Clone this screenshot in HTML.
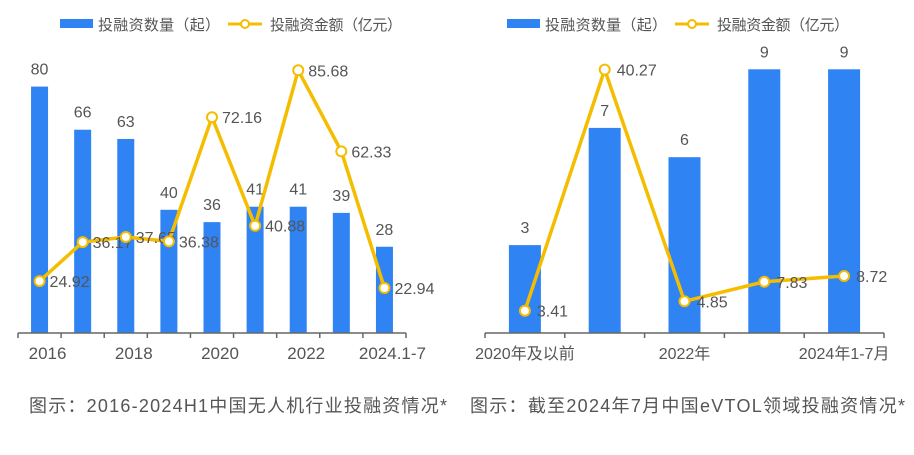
<!DOCTYPE html>
<html><head><meta charset="utf-8">
<style>
body{margin:0;background:#fff;width:914px;height:450px;overflow:hidden;font-family:"Liberation Sans","Noto Sans CJK SC",sans-serif;}
svg text{font-family:"Liberation Sans","Noto Sans CJK SC",sans-serif;}
</style></head><body>
<svg id="c" width="914" height="450"></svg>
<script>
const leftCats=["2016","2017","2018","2019","2020","2021","2022","2023","2024.1-7"];
const leftTickLabels=["2016","","2018","","2020","","2022","","2024.1-7"];
const leftCounts=[80,66,63,40,36,41,41,39,28];
const leftAmounts=[24.92,36.17,37.65,36.38,72.16,40.88,85.68,62.33,22.94];
const rightCats=["2020年及以前","2021年","2022年","2023年","2024年1-7月"];
const rightTickLabels=["2020年及以前","","2022年","","2024年1-7月"];
const rightCounts=[3,7,6,9,9];
const rightAmounts=[3.41,40.27,4.85,7.83,8.72];

const svg=document.getElementById('c');
const NS='http://www.w3.org/2000/svg';
function mk(tag,attrs,parent){const e=document.createElementNS(NS,tag);for(const k in attrs)e.setAttribute(k,attrs[k]);(parent||svg).appendChild(e);return e;}
function txt(x,y,s,size,fill,anchor){const t=mk('text',{x:x,y:y,'font-size':size,fill:fill,'text-anchor':anchor||'start'});t.textContent=s;return t;}

function drawChart(cfg){
  const g=mk('g',{});
  
  
  const n=cfg.cats.length, step=(cfg.x1-cfg.x0)/n;
  const xc=i=>cfg.x0+step*(i+0.5);
  const yBar=v=>cfg.base-v*cfg.barK;
  const yLine=v=>cfg.lineB-v*cfg.lineK;
  cfg.counts.forEach((v,i)=>{
    const r=mk('rect',{x:xc(i)-cfg.bw/2,y:yBar(v),width:cfg.bw,height:cfg.base-yBar(v),fill:'#2f83f3'},g);
    
    
    const t=txt(xc(i),yBar(v)-12,String(v),16,'#555','middle');g.appendChild(t);
    
    
  });
  const ax=mk('path',{d:`M${cfg.x0},${cfg.base}H${cfg.x1}`,stroke:'#666','stroke-width':1.5,fill:'none'},g);
  
  
  for(let i=0;i<=n;i++){mk('path',{d:`M${cfg.x0+step*i},${cfg.base}v5`,stroke:'#666','stroke-width':1.5},g);}
  cfg.ticks.forEach((s,i)=>{if(!s)return;
    const t=txt(xc(i)+cfg.tickDx,cfg.base+26,s,cfg.tickSize,'#555','middle');g.appendChild(t);
    
    });
  const pts=cfg.amounts.map((v,i)=>xc(i)+','+yLine(v)).join(' ');
  const pl=mk('polyline',{points:pts,fill:'none',stroke:'#f5bd00','stroke-width':3.5,'stroke-linejoin':'round'},g);
  
  
  cfg.amounts.forEach((v,i)=>{
    const c=mk('circle',{cx:xc(i),cy:yLine(v),r:5,fill:'#fff',stroke:'#f5bd00','stroke-width':2},g);
    
    
    const t=txt(xc(i)+cfg.lblDx,yLine(v)+6,v.toFixed(2),16,'#555','start');g.appendChild(t);
    
    
  });
  const lg=mk('g',{},g);
  
  
  const lx=cfg.legX;
  mk('rect',{x:lx,y:19,width:33,height:9,fill:'#2f83f3'},lg);
  const a=txt(lx+38,30,'投融资数量（起）',15,'#555');a.setAttribute('textLength',122);lg.appendChild(a);
  const l2=lx+168;
  mk('path',{d:`M${l2},24h34`,stroke:'#f5bd00','stroke-width':3},lg);
  mk('circle',{cx:l2+17,cy:24,r:4,fill:'#fff',stroke:'#f5bd00','stroke-width':2},lg);
  const b=txt(l2+42,30,'投融资金额（亿元）',15,'#555');b.setAttribute('textLength',132);lg.appendChild(b);
  const tt=txt(cfg.titleX,412,cfg.title,18,'#555');
  tt.setAttribute('textLength',cfg.titleW);
  
  
}
drawChart({name:'left-chart',cats:leftCats,ticks:leftTickLabels,counts:leftCounts,amounts:leftAmounts,
  x0:18,x1:406,base:333,bw:17,barK:3.08,lineB:367.6,lineK:3.47,lblDx:10,legX:60,tickDx:8,tickSize:17,
  titleX:29,titleW:418,title:'图示：2016-2024H1中国无人机行业投融资情况*'});
drawChart({name:'right-chart',cats:rightCats,ticks:rightTickLabels,counts:rightCounts,amounts:rightAmounts,
  x0:485,x1:884,base:333,bw:32,barK:29.3,lineB:333,lineK:6.54,lblDx:12,legX:507,tickDx:0,tickSize:16,
  titleX:470,titleW:435,title:'图示：截至2024年7月中国eVTOL领域投融资情况*'});
</script>
</body></html>
